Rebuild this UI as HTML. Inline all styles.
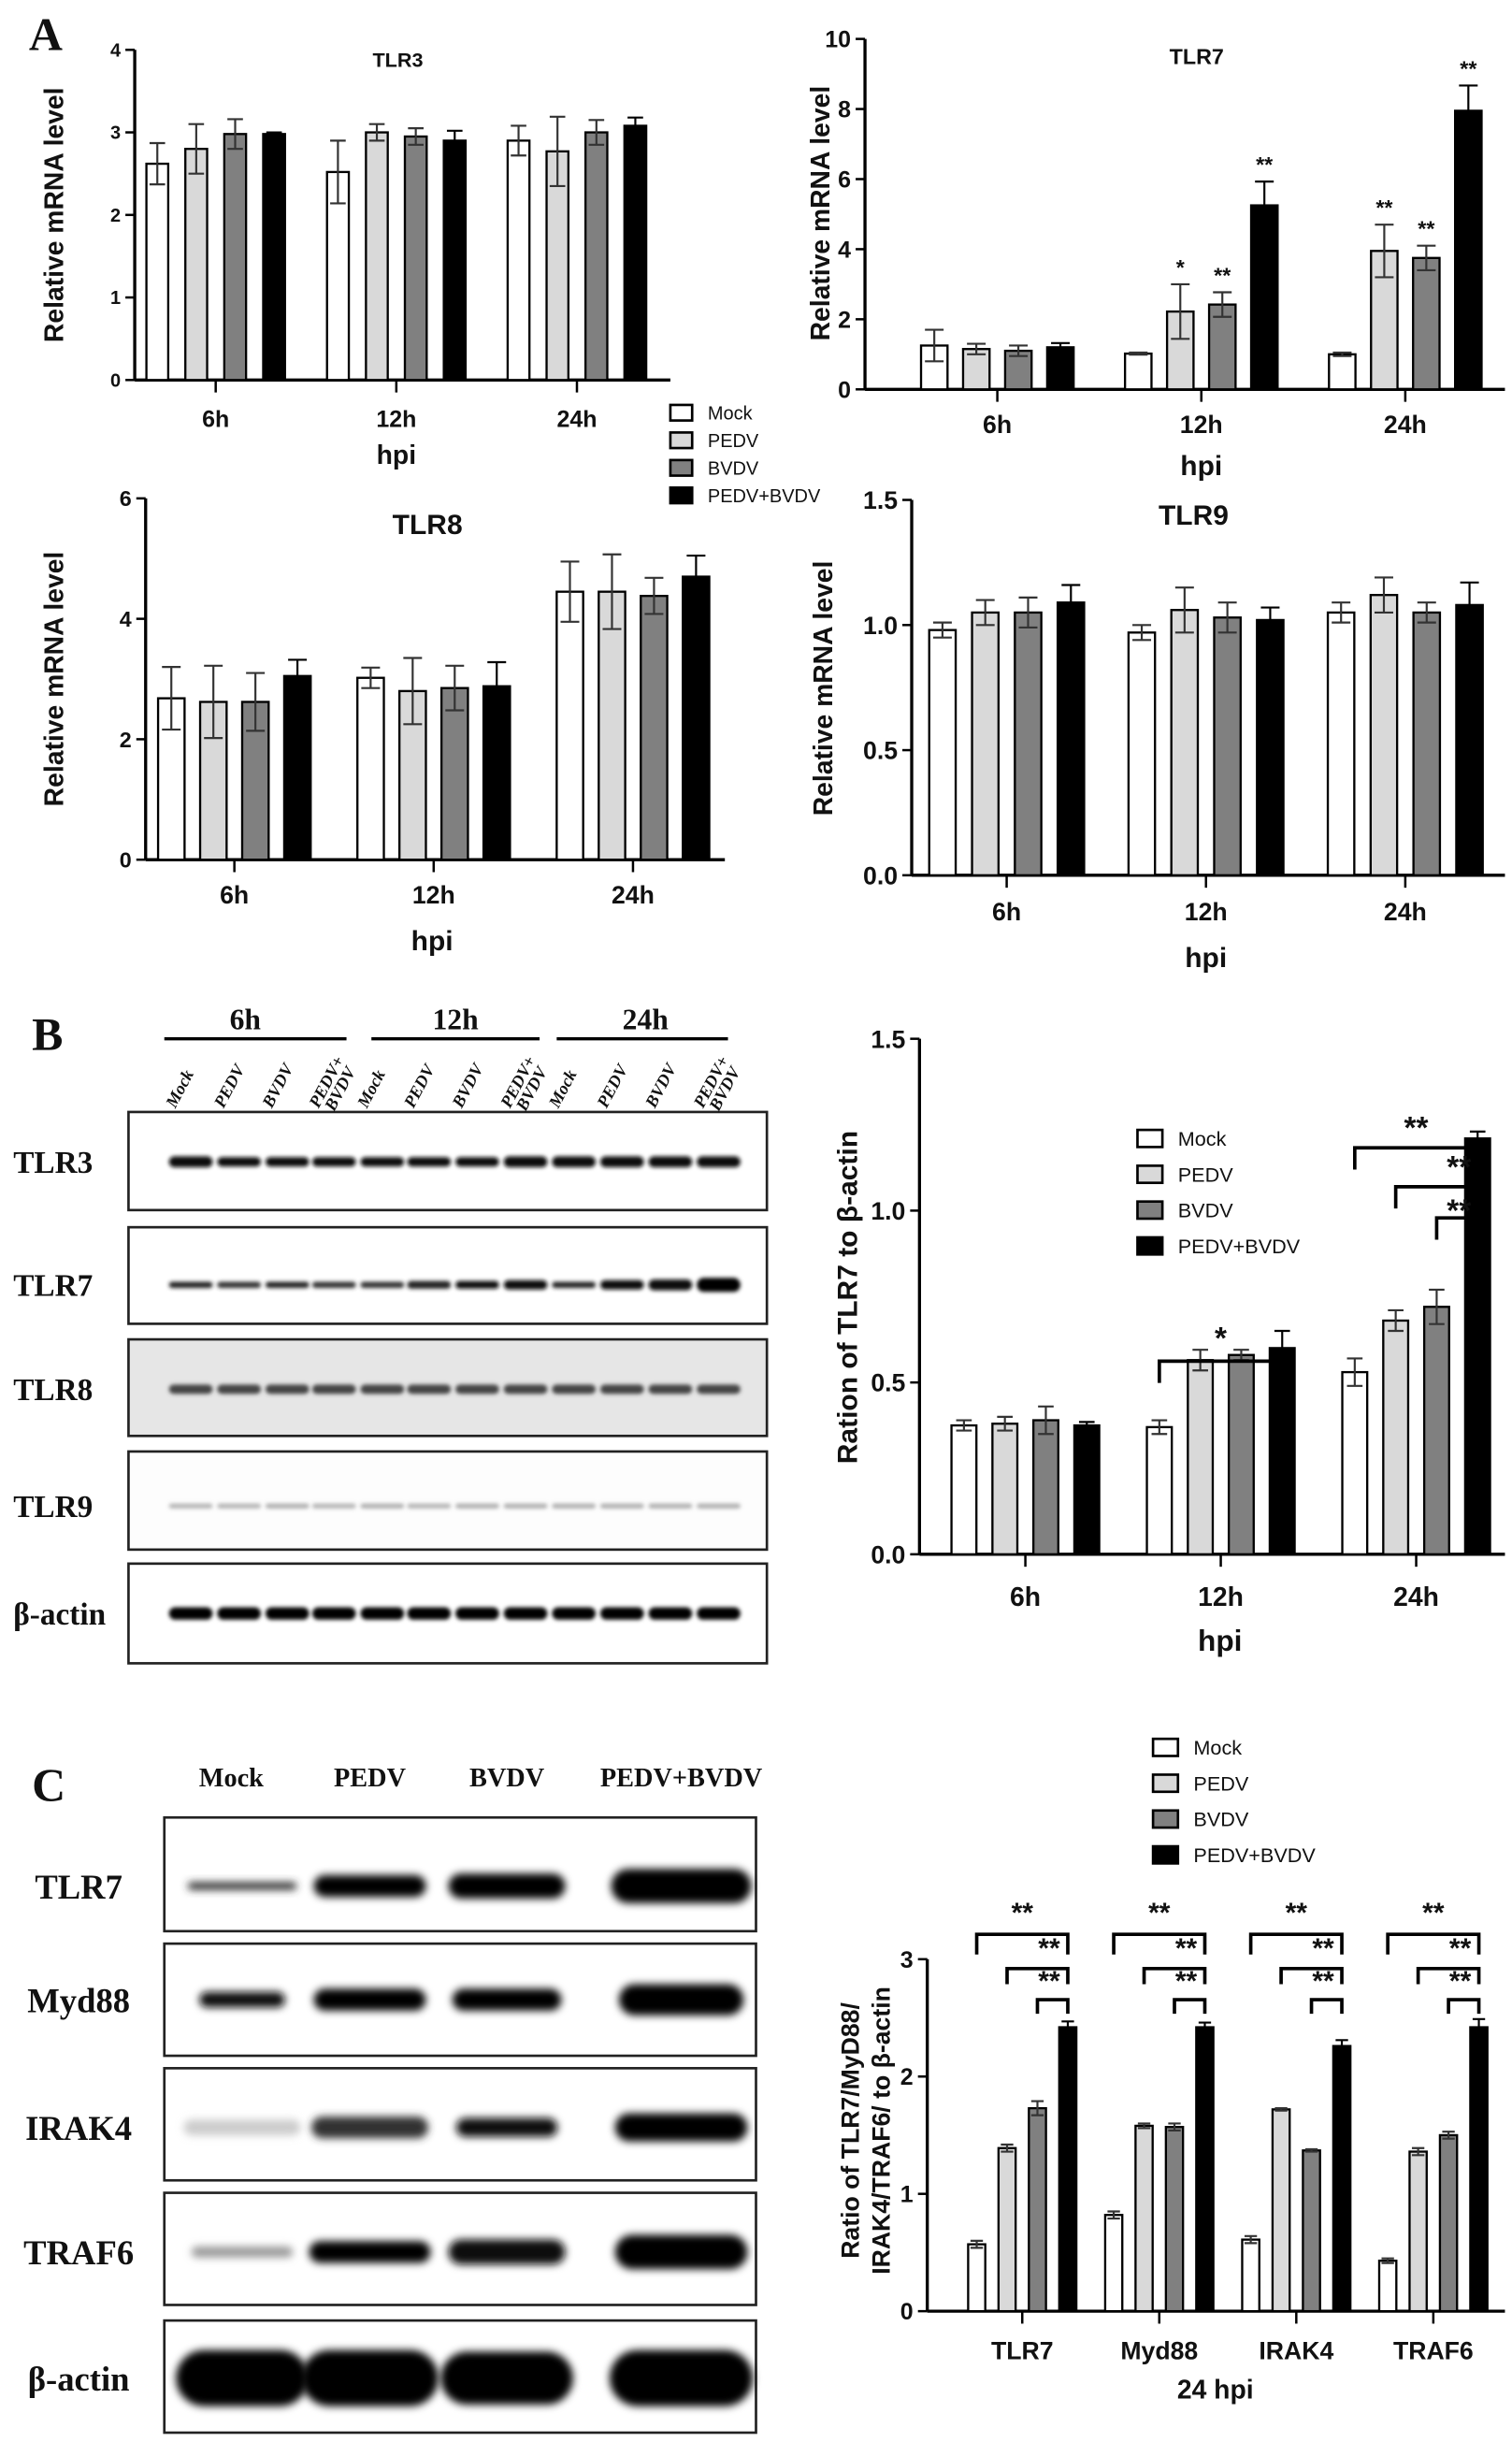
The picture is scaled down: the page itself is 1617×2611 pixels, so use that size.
<!DOCTYPE html>
<html><head><meta charset="utf-8"><style>
html,body{margin:0;padding:0;background:#fff;}
svg{display:block;}
.ax{font-family:"Liberation Sans",Arial,sans-serif;font-weight:bold;fill:#111;}
.serif{font-family:"Liberation Serif","Times New Roman",serif;font-weight:bold;fill:#111;}
</style></head><body>
<svg id="fig" xmlns="http://www.w3.org/2000/svg" width="1617" height="2611" viewBox="0 0 970 1568">
<defs>
<filter id="blur1" x="-20%" y="-100%" width="140%" height="300%"><feGaussianBlur stdDeviation="1.3"/></filter>
<filter id="blur2" x="-20%" y="-100%" width="140%" height="300%"><feGaussianBlur stdDeviation="2.5"/></filter>
</defs>
<text class="serif" x="18" y="32" font-size="30">A</text>
<text class="serif" x="20" y="674" font-size="30">B</text>
<text class="serif" x="20" y="1156" font-size="30">C</text>
</svg>
<script>
// ---------- DATA ----------
const seriesNames = ["Mock","PEDV","BVDV","PEDV+BVDV"];
const hpiCats = ["6h","12h","24h"];
// TLR3 qPCR
const tlr3Vals = [[2.62,2.52,2.9],[2.8,3.0,2.77],[2.98,2.95,3.0],[2.98,2.9,3.08]];
const tlr3Errs = [[0.25,0.38,0.18],[0.3,0.1,0.42],[0.18,0.1,0.15],[0.02,0.12,0.1]];
const tlr3Ticks = [0,1,2,3,4];
// TLR7 qPCR
const tlr7Vals = [[1.25,1.02,1.0],[1.15,2.22,3.95],[1.1,2.42,3.75],[1.2,5.25,7.95]];
const tlr7Errs = [[0.45,0.03,0.05],[0.15,0.78,0.75],[0.15,0.35,0.35],[0.12,0.68,0.72]];
const tlr7Stars = [["","",""],["","*","**"],["","**","**"],["","**","**"]];
const tlr7Ticks = [0,2,4,6,8,10];
// TLR8 qPCR
const tlr8Vals = [[2.68,3.02,4.45],[2.62,2.8,4.45],[2.62,2.85,4.38],[3.05,2.88,4.7]];
const tlr8Errs = [[0.52,0.17,0.5],[0.6,0.55,0.62],[0.48,0.37,0.3],[0.27,0.4,0.35]];
const tlr8Ticks = [0,2,4,6];
// TLR9 qPCR
const tlr9Vals = [[0.98,0.97,1.05],[1.05,1.06,1.12],[1.05,1.03,1.05],[1.09,1.02,1.08]];
const tlr9Errs = [[0.03,0.03,0.04],[0.05,0.09,0.07],[0.06,0.06,0.04],[0.07,0.05,0.09]];
const tlr9Ticks = [0,0.5,1.0,1.5];
const tlr9TickLabels = ["0.0","0.5","1.0","1.5"];
// Panel B ratio
const bVals = [[0.375,0.37,0.53],[0.38,0.565,0.68],[0.39,0.58,0.72],[0.375,0.6,1.21]];
const bErrs = [[0.015,0.02,0.04],[0.02,0.03,0.03],[0.04,0.015,0.05],[0.01,0.05,0.02]];
const bTicks = [0,0.5,1.0,1.5];
const bTickLabels = ["0.0","0.5","1.0","1.5"];
// Panel C ratio
const cCats = ["TLR7","Myd88","IRAK4","TRAF6"];
const cVals = [[0.57,0.82,0.61,0.43],[1.39,1.58,1.72,1.36],[1.73,1.57,1.37,1.5],[2.42,2.42,2.26,2.42]];
const cErrs = [[0.03,0.03,0.03,0.02],[0.03,0.02,0.01,0.03],[0.06,0.03,0.01,0.03],[0.05,0.04,0.05,0.07]];
const cTicks = [0,1,2,3];

// ---------- HELPERS ----------
const NS = "http://www.w3.org/2000/svg";
const svg = document.getElementById('fig');
const fills = ["#ffffff","#d9d9d9","#808080","#000000"];
function mk(tag, attrs, parent){
  const e = document.createElementNS(NS, tag);
  for (const k in attrs) e.setAttribute(k, attrs[k]);
  (parent||svg).appendChild(e);
  return e;
}
function txt(parent, x, y, s, size, cls, anchor){
  const t = mk('text',{x:x,y:y,'font-size':size,'class':cls||'ax','text-anchor':anchor||'middle'},parent);
  t.textContent = s;
  return t;
}

function drawChart(c){
  const g = mk('g',{});
  
  
  const yScale = v => c.y0 - (v - 0)/(c.vmax) * (c.y0 - c.yTop);
  const xCat = i => c.xFirst + i*c.band;
  const xBar = (i,s) => xCat(i) + (s-1.5)*c.step;
  c.yTitle.forEach(line=>{
    const t = mk('text',{x:0,y:0,'font-size':line[3],'class':'ax','text-anchor':'middle',transform:`translate(${line[0]},${line[1]}) rotate(-90)`},g);
    t.textContent = line[2];
    
    
  });
  const ya = mk('line',{x1:c.x0,y1:c.yTop,x2:c.x0,y2:c.y0,stroke:'#000','stroke-width':2},g);
  
  
  const xa = mk('line',{x1:c.x0,y1:c.y0,x2:c.xEnd,y2:c.y0,stroke:'#000','stroke-width':2},g);
  
  
  c.ticks.forEach((v,k)=>{
    const y = yScale(v);
    mk('line',{x1:c.x0-6,y1:y,x2:c.x0,y2:y,stroke:'#000','stroke-width':1.5},g);
    const t = txt(g, c.x0-9, y+c.tickFs*0.36, c.tickLabels?c.tickLabels[k]:String(v), c.tickFs, 'ax', 'end');
    
    
  });
  c.cats.forEach((lab,i)=>{
    const x = xCat(i);
    mk('line',{x1:x,y1:c.y0,x2:x,y2:c.y0+8,stroke:'#000','stroke-width':1.5},g);
    const t = txt(g, x, c.y0+c.catOff, lab, c.catFs);
    
    
  });
  for (let s=0;s<4;s++){
    c.cats.forEach((lab,i)=>{
      const v = c.vals[s][i], e = c.errs[s][i];
      const cx = xBar(i,s), top = yScale(v);
      const r = mk('rect',{x:cx-c.barW/2,y:top,width:c.barW,height:c.y0-top,fill:fills[s],stroke:'#000','stroke-width':1.4},g);
      
      
      const yh = yScale(v+e), yl = yScale(v-e);
      const eb = mk('path',{d:`M${cx},${yl}V${yh}M${cx-c.capW},${yh}H${cx+c.capW}M${cx-c.capW},${yl}H${cx+c.capW}`,stroke:s===3?'#000':'#333',fill:'none','stroke-width':1.3},g);
      
      
      if (c.stars && c.stars[s][i]){
        const st = txt(g, cx, yh-6, c.stars[s][i], c.starFs);
        
        
      }
    });
  }
  if (c.brackets){
    c.brackets.forEach(b=>{
      c.cats.forEach((lab,i)=>{
        if (b.groups.indexOf(i)<0) return;
        const xa1 = xBar(i,b.from), xb1 = xBar(i,b.to);
        const p = mk('path',{d:`M${xa1},${b.y+b.drop}V${b.y}H${xb1}V${b.y+b.drop}`,stroke:'#000',fill:'none','stroke-width':2.2},g);
        
        
        const st = txt(g, (b.labX==='right'? xb1-12 : (xa1+xb1)/2), b.y-b.labGap, b.label, c.bracketFs);
        
        
      });
    });
  }
  if (c.title){
    const t = txt(g, c.title[0], c.title[1], c.title[2], c.title[3]);
    
    
  }
  const xt = txt(g, c.xTitle[0], c.xTitle[1], c.xTitle[2], c.xTitle[3]);
  
  
}

function drawLegend(x, y, gap, fs, bw, bh, name){
  const g = mk('g',{});
  
  
  seriesNames.forEach((n,s)=>{
    const r = mk('rect',{x:x,y:y+s*gap-bh/2,width:bw,height:bh,fill:fills[s],stroke:'#000','stroke-width':1.6},g);
    
    
    const t = mk('text',{x:x+bw+10,y:y+s*gap+fs*0.36,'font-size':fs,'font-family':'"Liberation Sans Narrow","Liberation Sans",sans-serif',fill:'#111','text-anchor':'start'},g);
    t.textContent = n;
    
    
  });
}

// ---------- PANEL A ----------
drawChart({name:'tlr3-chart',x0:86,y0:244,yTop:32,vmax:4,xEnd:430,xFirst:138,band:116,step:25,barW:14,capW:5,
  cats:hpiCats,vals:tlr3Vals,errs:tlr3Errs,ticks:tlr3Ticks,tickFs:12,catFs:15,catOff:30,
  title:[255,43,'TLR3',13],yTitle:[[40,138,'Relative mRNA level',17]],xTitle:[254,298,'hpi',17]});
drawChart({name:'tlr7-chart',x0:555,y0:250,yTop:25,vmax:10,xEnd:966,xFirst:640,band:131,step:27,barW:17,capW:6,
  cats:hpiCats,vals:tlr7Vals,errs:tlr7Errs,ticks:tlr7Ticks,tickFs:15,catFs:16,catOff:28,starFs:14,stars:tlr7Stars,
  title:[768,41,'TLR7',14],yTitle:[[532,137,'Relative mRNA level',17]],xTitle:[771,305,'hpi',18]});
drawChart({name:'tlr8-chart',x0:93,y0:552,yTop:320,vmax:6,xEnd:465,xFirst:150,band:128,step:27,barW:17,capW:6,
  cats:hpiCats,vals:tlr8Vals,errs:tlr8Errs,ticks:tlr8Ticks,tickFs:14,catFs:16,catOff:28,
  title:[274,343,'TLR8',18],yTitle:[[40,436,'Relative mRNA level',17]],xTitle:[277,610,'hpi',18]});
drawChart({name:'tlr9-chart',x0:585,y0:562,yTop:321,vmax:1.5,xEnd:966,xFirst:646,band:128,step:27.5,barW:17,capW:6,
  cats:hpiCats,vals:tlr9Vals,errs:tlr9Errs,ticks:tlr9Ticks,tickLabels:tlr9TickLabels,tickFs:16,catFs:16,catOff:29,
  title:[766,337,'TLR9',18],yTitle:[[534,442,'Relative mRNA level',17]],xTitle:[774,621,'hpi',18]});
drawLegend(430,265,17.7,12,14,10,'legend-a');

// ---------- PANEL B CHART ----------
drawChart({name:'tlr7-ratio-chart',x0:590,y0:998,yTop:667,vmax:1.5,xEnd:966,xFirst:658,band:125.5,step:26.3,barW:16,capW:5,
  cats:hpiCats,vals:bVals,errs:bErrs,ticks:bTicks,tickLabels:bTickLabels,tickFs:16,catFs:17,catOff:33,bracketFs:20,
  brackets:[
    {groups:[1],from:0,to:3,y:874,drop:14,label:'*',labGap:8},
    {groups:[2],from:0,to:3,y:737,drop:14,label:'**',labGap:6},
    {groups:[2],from:1,to:3,y:762,drop:14,label:'**',labGap:6,labX:'right'},
    {groups:[2],from:2,to:3,y:782,drop:14,label:'**',labGap:-2,labX:'right'}],
  yTitle:[[550,833,'Ration of TLR7 to β-actin',18]],xTitle:[783,1060,'hpi',19]});
drawLegend(730,731,23,13,16,11,'legend-b');

// ---------- PANEL C CHART ----------
drawChart({name:'pathway-ratio-chart',x0:595,y0:1484,yTop:1258,vmax:3,xEnd:966,xFirst:656,band:88,step:19.5,barW:11,capW:4,
  cats:cCats,vals:cVals,errs:cErrs,ticks:cTicks,tickFs:15,catFs:16,catOff:31,bracketFs:18,
  brackets:[
    {groups:[0,1,2,3],from:0,to:3,y:1242,drop:13,label:'**',labGap:8},
    {groups:[0,1,2,3],from:1,to:3,y:1264,drop:10,label:'**',labGap:7,labX:'right'},
    {groups:[0,1,2,3],from:2,to:3,y:1284,drop:9,label:'**',labGap:6,labX:'right'}],
  yTitle:[[551,1368,'Ratio of TLR7/MyD88/',16],[571,1368,'IRAK4/TRAF6/ to β-actin',16]],xTitle:[780,1540,'24 hpi',17]});
drawLegend(740,1122,23,13,16,11,'legend-c');

// ---------- BLOTS ----------
function blotBox(x,y,w,h,bg,name){
  const r = mk('rect',{x:x,y:y,width:w,height:h,fill:bg,stroke:'#222','stroke-width':1.6});
  
  
}
function band(cx,cy,w,h,color,blur){
  const e = mk('rect',{x:cx-w/2,y:cy-h/2,width:w,height:h,rx:h/2,fill:color,filter:'url(#'+blur+')'});
  
  
}
const bLaneX = [122,153,184,214,245,275,306,337,368,399,430,461];
const bRows = [
  {lab:'TLR3',y:714,h:63,bg:'#fff',by:746,bh:[7,6,6,6,6,6,6,7,7,7,7,7],col:['#111','#111','#111','#111','#111','#111','#111','#111','#111','#111','#111','#111']},
  {lab:'TLR7',y:788,h:62,bg:'#fff',by:825,bh:[4,4,4,4,4,5,5,6,4,6,7,9],col:['#222','#333','#222','#333','#333','#222','#111','#111','#222','#111','#111','#000']},
  {lab:'TLR8',y:860,h:62,bg:'#e6e6e6',by:892,bh:[6,6,6,6,6,6,6,6,6,6,6,6],col:['#444','#444','#444','#444','#444','#444','#444','#444','#444','#444','#444','#444']},
  {lab:'TLR9',y:932,h:63,bg:'#fdfdfd',by:967,bh:[3,3,3,3,3,3,3,3,3,3,3,3],col:['#b0b0b0','#b0b0b0','#aaa','#b0b0b0','#aaa','#b0b0b0','#aaa','#aaa','#aaa','#aaa','#aaa','#aaa']},
  {lab:'β-actin',y:1004,h:64,bg:'#fff',by:1036,bh:[8,8,8,8,8,8,8,8,8,8,8,8],col:['#000','#000','#000','#000','#000','#000','#000','#000','#000','#000','#000','#000']}
];
bRows.forEach(r=>{
  blotBox(82,r.y,410,r.h,r.bg,'blot-b-'+r.lab.toLowerCase());
  bLaneX.forEach((x,k)=>band(x,r.by,28,r.bh[k],r.col[k],'blur1'));
  const t = txt(svg, 8, r.by+7, r.lab, 20, 'serif', 'start');
  
  
});
[[157,'6h',105,222],[292,'12h',238,346],[414,'24h',357,467]].forEach(h=>{
  const t = txt(svg,h[0],661,h[1],19,'serif');
  
  
  const l = mk('line',{x1:h[2],y1:667,x2:h[3],y2:667,stroke:'#000','stroke-width':2});
  
  
});
const laneLabs = ['Mock','PEDV','BVDV','PEDV+|BVDV'];
bLaneX.forEach((x,k)=>{
  const lab = laneLabs[k%4].split('|');
  lab.forEach((s,j)=>{
    const t = mk('text',{x:0,y:0,'font-size':11,'class':'serif','font-style':'italic','text-anchor':'start',
      transform:`translate(${x-10+j*10},${712+j*2}) rotate(-62)`});
    t.textContent = s;
    
    
  });
});
// Panel C blots
const cLaneX = [150,237,325,437];
[['Mock',148],['PEDV',237],['BVDV',325],['PEDV+BVDV',437]].forEach(h=>{
  const t = txt(svg,h[1],1147,h[0],17,'serif');
  
  
});
const cRows = [
  {lab:'TLR7',y:1167,h:73,by:1211,bw:[70,72,75,90],bh:[5,14,16,22],col:['#333','#000','#000','#000']},
  {lab:'Myd88',y:1248,h:72,by:1284,bw:[55,72,70,80],bh:[10,14,14,20],col:['#111','#000','#000','#000']},
  {lab:'IRAK4',y:1328,h:72,by:1366,bw:[75,75,65,85],bh:[10,14,12,18],col:['#ccc','#333','#111','#000']},
  {lab:'TRAF6',y:1408,h:72,by:1446,bw:[65,78,75,85],bh:[7,14,16,22],col:['#999','#000','#111','#000']},
  {lab:'β-actin',y:1490,h:72,by:1527,bw:[85,88,85,92],bh:[36,36,34,36],col:['#000','#000','#000','#000']}
];
cRows.forEach(r=>{
  blotBox(105,r.y,380,r.h,'#fff','blot-c-'+r.lab.toLowerCase());
  cLaneX.forEach((x,k)=>band(x+(k===0?5:0),r.by,r.bw[k],r.bh[k],r.col[k],'blur2'));
  const t = txt(svg, 50, r.by+8, r.lab, 22, 'serif', 'middle');
  
  
});
</script>
</body></html>
